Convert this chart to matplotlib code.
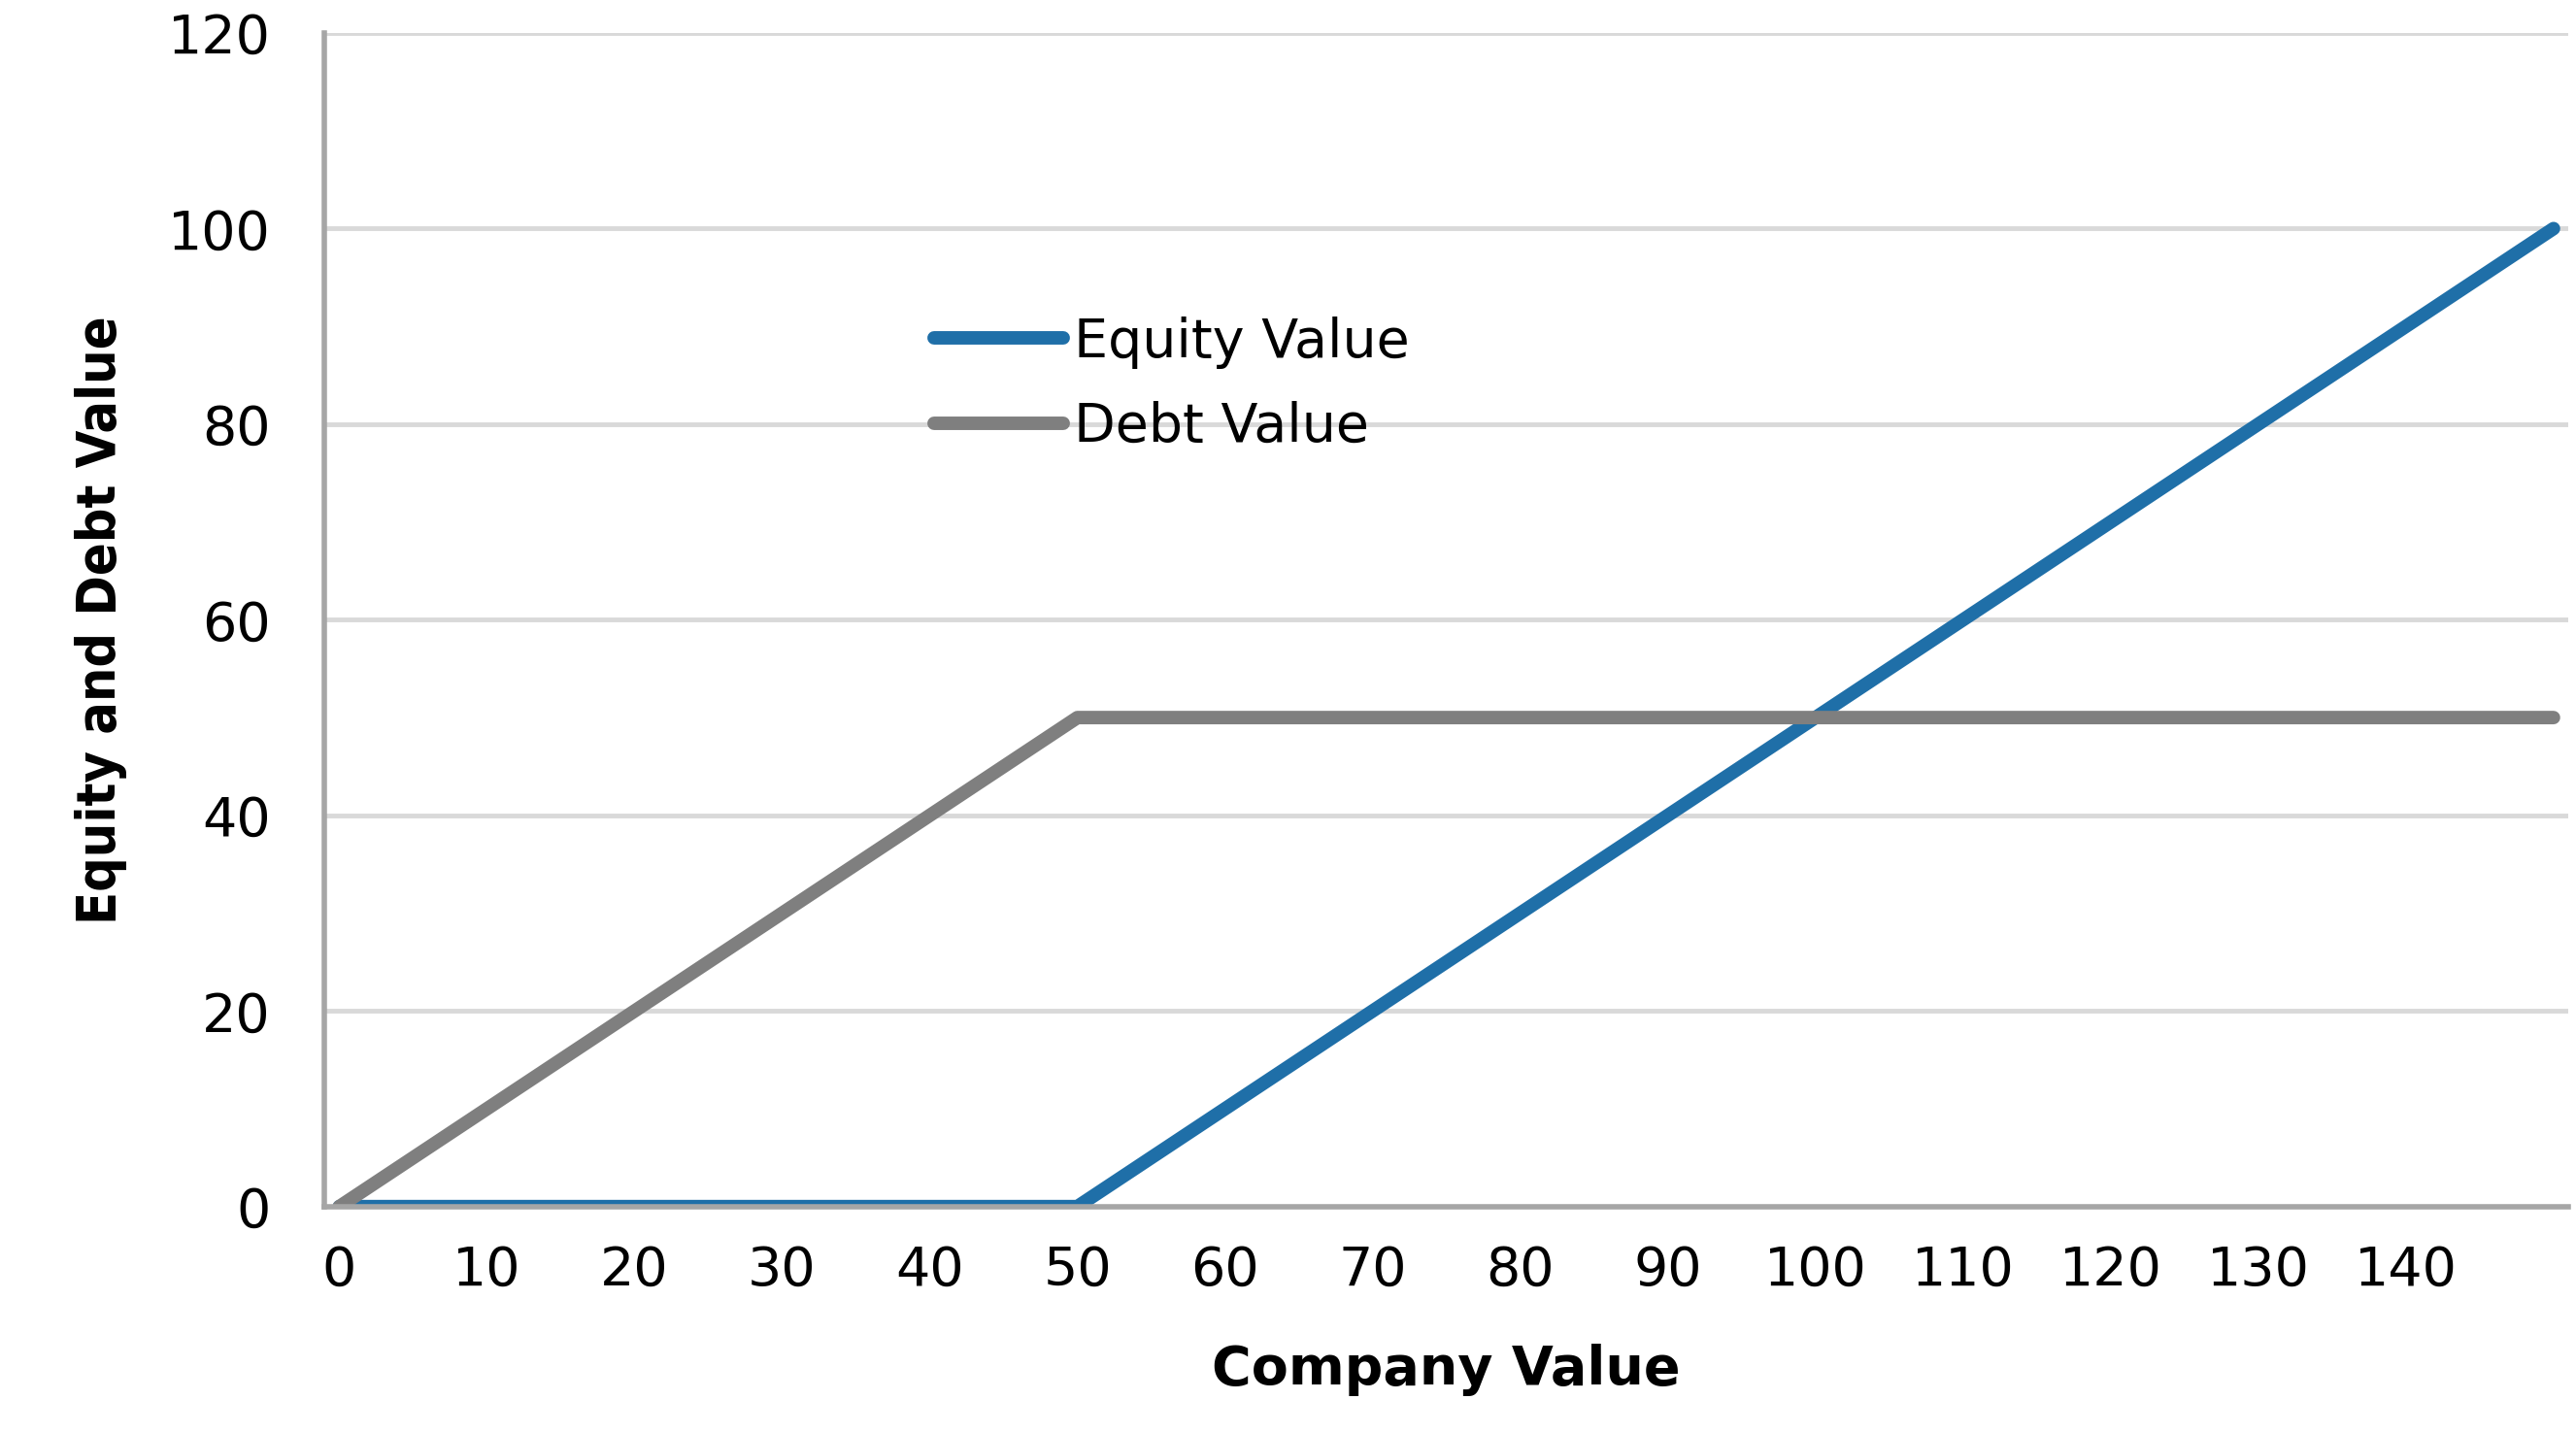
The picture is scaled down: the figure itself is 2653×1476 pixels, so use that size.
import matplotlib.pyplot as plt

company = [0, 2, 4, 6, 8, 10, 12, 14, 16, 18, 20, 22, 24, 26, 28, 30, 32, 34, 36, 38,
           40, 42, 44, 46, 48, 50, 52, 54, 56, 58, 60, 62, 64, 66, 68, 70, 72, 74, 76, 78,
           80, 82, 84, 86, 88, 90, 92, 94, 96, 98, 100, 102, 104, 106, 108, 110, 112, 114,
           116, 118, 120, 122, 124, 126, 128, 130, 132, 134, 136, 138, 140, 142, 144, 146,
           148, 150]
debt = [0, 2, 4, 6, 8, 10, 12, 14, 16, 18, 20, 22, 24, 26, 28, 30, 32, 34, 36, 38,
        40, 42, 44, 46, 48, 50, 50, 50, 50, 50, 50, 50, 50, 50, 50, 50, 50, 50, 50, 50,
        50, 50, 50, 50, 50, 50, 50, 50, 50, 50, 50, 50, 50, 50, 50, 50, 50, 50,
        50, 50, 50, 50, 50, 50, 50, 50, 50, 50, 50, 50, 50, 50, 50, 50, 50, 50]
equity = [0, 0, 0, 0, 0, 0, 0, 0, 0, 0, 0, 0, 0, 0, 0, 0, 0, 0, 0, 0,
          0, 0, 0, 0, 0, 0, 2, 4, 6, 8, 10, 12, 14, 16, 18, 20, 22, 24, 26, 28,
          30, 32, 34, 36, 38, 40, 42, 44, 46, 48, 50, 52, 54, 56, 58, 60, 62, 64,
          66, 68, 70, 72, 74, 76, 78, 80, 82, 84, 86, 88, 90, 92, 94, 96, 98, 100]
xticks = list(range(0, 150, 10))
yticks = list(range(0, 121, 20))

fig = plt.figure(figsize=(26.53, 14.76), dpi=100)
ax = fig.add_axes([0.126, 0.158, 0.871, 0.819])
ax.plot(company, equity, color='#1f6fa8', lw=10, label='Equity Value', solid_capstyle='round')
ax.plot(company, debt, color='#7f7f7f', lw=10, label='Debt Value', solid_capstyle='round')
ax.set_xlim(-1, 151)
ax.set_ylim(0, 120)
ax.set_xticks(xticks)
ax.set_yticks(yticks)
ax.tick_params(labelsize=40, length=0)
ax.tick_params(axis='x', pad=28)
ax.tick_params(axis='y', pad=40)
ax.yaxis.grid(True, color='#d9d9d9', lw=3.5)
ax.set_axisbelow(True)
for s in ['top', 'right']:
    ax.spines[s].set_visible(False)
for s in ['left', 'bottom']:
    ax.spines[s].set_color('#a6a6a6')
    ax.spines[s].set_linewidth(4)
ax.set_xlabel('Company Value', fontsize=40, fontweight='bold', labelpad=35)
ax.set_ylabel('Equity and Debt Value', fontsize=40, fontweight='bold',
              fontstretch='condensed', labelpad=30)
ax.legend(loc='upper left', bbox_to_anchor=(0.25, 0.8), frameon=False, fontsize=40,
          handlelength=2.4, handletextpad=0.2, labelspacing=0.6)
fig.savefig('out.png', dpi=100)
